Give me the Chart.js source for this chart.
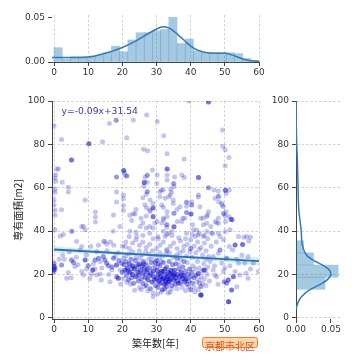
<!DOCTYPE html>
<html>
<head>
<meta charset="utf-8">
<script src="https://cdn.jsdelivr.net/npm/chart.js@4.4.0/dist/chart.umd.min.js"></script>
<style>
  html, body { margin: 0; padding: 0; background: #fff; }
  #wrap { position: relative; width: 360px; height: 360px; overflow: hidden; background: #fff; }
  canvas { position: absolute; }
  #topHist  { left: 0;     top: 0;    width: 270px; height: 80px;  }
  #scatter  { left: 0;     top: 90px; width: 270px; height: 270px; }
  #sideHist { left: 270px; top: 90px; width: 90px;  height: 270px; }
  #ward {
    position: absolute; left: 202px; top: 337px;
    padding: 0 2px; height: 9px; line-height: 9px;
    border: 1.5px solid #f57f1f; border-radius: 2.5px;
    background: #ffd7ae; color: #e4501c;
    font: 10px 'Noto Sans CJK JP'; white-space: nowrap;
  }
</style>
</head>
<body>
<div id="wrap">
  <canvas id="topHist" width="270" height="80"></canvas>
  <canvas id="scatter" width="270" height="270"></canvas>
  <canvas id="sideHist" width="90" height="270"></canvas>
  <div id="ward">京都市北区</div>
</div>
<script>
/* ─── tick labels ─── */
const AGE_TICKS  = [0, 10, 20, 30, 40, 50, 60];
const AREA_TICKS = [0, 20, 40, 60, 80, 100];
const DENS_TICKS = [0, 0.05];

/* ─── top marginal: histogram of building age (density) ─── */
const ageBinCenters = [1.2, 3.6, 6.0, 8.4, 10.8, 13.2, 15.6, 18.0, 20.4, 22.8, 25.2, 27.6, 30.0,
                       32.4, 34.8, 37.2, 39.6, 42.0, 44.4, 46.8, 49.2, 51.6, 54.0, 56.4, 58.8];
const ageBinDensity = [0.0163, 0.0034, 0.006, 0.006, 0.006, 0.0076, 0.0106, 0.018, 0.0117, 0.025, 0.0333, 0.0333, 0.0355,
                       0.037, 0.0508, 0.021, 0.026, 0.0128, 0.0106, 0.0106, 0.0106, 0.0106, 0.0095, 0.004, 0.0015];
const ageKdeX = [-0.6, 5, 10, 15, 20, 24, 28, 31, 32, 34, 36, 38, 40, 42, 44, 47, 50, 53, 56, 60];
const ageKdeY = [0.005, 0.005, 0.0056, 0.0099, 0.0165, 0.024, 0.0332, 0.0392, 0.040, 0.038, 0.032, 0.025,
                 0.018, 0.0135, 0.0112, 0.0099, 0.0099, 0.0068, 0.0025, 0.0005];

/* ─── right marginal: histogram of floor area (density) ─── */
const areaBinCenters = [16, 21.6, 27.2, 32.8];
const areaBinDensity = [0.0415, 0.0603, 0.025, 0.0108];
const areaKdeY = [4, 8, 10, 13, 16, 18, 20, 22, 24, 26, 28, 30, 34, 40, 50, 62, 74, 80, 90, 100];
const areaKdeX = [0, 0.004, 0.0085, 0.020, 0.038, 0.046, 0.050, 0.048, 0.040, 0.028, 0.018, 0.013,
                  0.0088, 0.0075, 0.0040, 0.0028, 0.0018, 0.001, 0.0004, 0.0002];

/* ─── regression fit + 95% band ─── */
const REG_TEXT = 'y=-0.09x+31.54';
const regX = [0, 60];
const regY = [31.54, 26.14];
const bandX  = [0, 10, 20, 30, 40, 50, 60];
const bandHi = [33.0, 31.6, 30.4, 29.4, 28.6, 28.2, 28.0];
const bandLo = [30.0, 29.6, 29.0, 28.2, 27.2, 25.8, 24.2];

/* ─── scatter: [age, area, overlapping count] ─── */
const ptsLeft = [
  [0,25.2,2],[0,23.7,3],[0,22.1,3],[0.3,22.9,2],[0,21.2],[2.2,24.4,2],[4.2,20.9],[3.7,18.3],[5.1,26.7,2],[5.7,25.5,2],
  [6.1,23.7],[8.1,21.4],[8.6,19.8],[9.1,26.7,3],[9.4,29],[7.6,31.3],[8.1,32.9],[6.6,35.2],[10.7,32.9],[11.3,22.1,3],
  [11,20.1],[12.5,19.8],[13.5,20.3],[12,26.7,2],[13,27.5,2],[13.5,26],[14.4,28.3,2],[14.9,26.7,2],[12.5,30.6],[15.4,25.2,2],
  [15.9,24,2],[16.4,16.7],[16.9,22.1],[17.4,27.5,2],[17.9,28.3],[18.3,24.4,3],[18.3,19,2],[18.8,18.3,3],[19.3,22.1],[19.8,25.2,2],
  [20.3,27.5],[20.8,32.9],[2.5,29],[3,27],[6.5,28],[10,24,2],[11.5,25],[14,23],[16,20],[17,23.5,2],
  [19,26.5,2],[9.5,22.5],[7,24.5],[4.5,30.5],[1.5,27],[13,33.5],[15.5,31],[17.5,33.5],[18.8,30],[16.5,35],
  [14.5,35.2],[5,18.5],[10.5,18],[13.8,17.5],[19.5,15.5],[12,22.5]
];
const ptsCluster = [
  [20.5,24.5,2],[20.8,22,3],[21,26,2],[21.2,19.5,2],[21.5,23,3],[21.8,17.5,2],[22,25,3],[22.2,21,3],[22.5,27,2],[22.7,18.5,2],
  [23,24,3],[23,20,3],[23.3,16,2],[23.5,22.5,3],[23.8,26.5,2],[24,19,3],[24.2,23.5,2],[24.5,21,3],[24.7,17,2],[25,25,2],
  [25,14],[20.2,18],[21,28.5],[22,29.5],[23,30.5],[24,28],[25,31],[20,21,2],[21.7,21.5,2],[22.8,23,2],
  [24.5,24.5,2],[23.6,12.8],[24.8,19.8,2],[21.3,16.5],[22.4,15.5],
  [25.3,22,3],[25.5,18,2],[25.7,24,3],[26,20.5,3],[26,16,2],[26.2,26,2],[26.5,22.5,3],[26.7,18.8,3],[27,15,2],[27,24.5,2],
  [27.2,21,3],[27.5,17.5,3],[27.7,27],[28,19.5,3],[28,23,2],[28.2,13.5,2],[28.5,25.5,2],[28.7,16.5,3],[29,21.5,3],[29,11.5],
  [29.2,19,3],[29.5,23.5,2],[29.7,15,2],[30,18,3],[30,26.5,2],[25.8,29],[26.8,30.5],[27.8,29.5],[28.8,31],[29.8,29],
  [25.5,13],[26.4,14.5],[27.4,12.5],[28.4,20.5,2],[29.4,17.5,2],[29,9.8],[25.2,27.5],[26.3,25,2],[27.3,22.3,2],[28.6,27.6],
  [29.6,25.5,2],
  [30.2,22,3],[30.4,14,2],[30.5,20,3],[30.7,17,3],[31,24,2],[31,16,3],[31.2,19,4],[31.5,21.5,3],[31.7,13,2],[32,18,4],
  [32,25.5,2],[32.2,15.5,3],[32.5,22.5,3],[32.5,20,3],[32.7,17,3],[33,14.5,2],[33,23.5,2],[33.2,19,4],[33.5,21,3],[33.5,16.5,3],
  [33.7,26,2],[34,18,4],[34,12],[34.2,22,3],[34.5,20,3],[34.5,15,2],[34.7,24.5,2],[35,17.5,3],[35,19.5,3],[30.8,27.5],
  [31.8,28.5],[32.8,29.5],[33.8,30],[34.8,28],[30.3,11],[31.4,12],[32.4,13.5,2],[33.4,11.5],[34.4,13.5],[31.2,20.8,2],
  [32,21.5,2],[33,18,2],[34,20.5,2],[31.6,17.8,2],[32.8,16,2],[33.8,17,2],[30.5,25,2],[31.5,26],
  [35.2,22,3],[35.5,15.5,2],[35.5,18.5,3],[35.7,25,2],[36,20,3],[36,13.5],[36.2,17,3],[36.5,22.5,2],[36.7,19,3],[37,16,2],
  [37,27],[37.2,21,3],[37.5,18,3],[37.5,14],[37.7,23.5,2],[38,19.5,3],[38.2,16.5,2],[38.5,21.5,2],[38.5,12.5],[38.7,18,3],
  [39,25.5],[39,15.5,2],[39.2,20,2],[39.5,17,2],[39.7,22.5,2],[40,19,2],[40,13,2],[35.8,29],[36.8,30],[37.8,31],
  [38.8,28.5],[39.8,30.5],[36.4,16,2],[37.4,19.7,2],[38.4,17.4,2],[39.4,14.2],[35.3,20.5,2],[36.6,24.5],
  [40.3,21,2],[40.5,16,2],[40.7,24],[41,18.5,2],[41,14],[41.3,22.5],[41.5,19.5,2],[41.8,16.5],[42,26],[42.2,20.5,3],
  [42.5,17.5],[42.5,23],[42.8,14.5],[43,19],[43.3,21.5],[43.5,16],[43.8,25],[44,18],[44.3,22],[44.5,15],
  [44.8,20],[45,23.5],[40.5,28],[41.5,30],[42.5,31.5],[43.5,29],[44.5,27],[41.2,12],[42.2,13],[43.2,14.5],
  [43.9,22.1,3],[43,10.6,5],[42.6,16]
];
const ptsRight = [
  [45.2,28.3],[45.7,26],[46.6,22.1],[47.1,19.8],[47.6,19],[48.1,29.8],[48.6,31.3,2],[49.1,25.2],[49.6,21.4],[49.8,16.7,2],
  [50.5,16,2],[51,17.5,3],[51.1,7.5,4],[52,12.9,3],[52.5,19,3],[53,33.6,3],[53.5,14.4],[54,25.2],[54.4,19.8],[55.2,33.9,3],
  [56.2,20.6],[56.8,18.3],[59.8,21.4],[58.3,25.2],[56.8,28.3],[55.8,25.2],[51.3,32.9],[52.3,31.3],[48.6,37.5],[49.6,36],
  [51.5,40.6],[53,21.4],[55,29],[46.6,28.3],[45.5,17],[47,24],[48,15.5],[50,23],[50.5,27.5,2],[51.5,24],
  [53.5,27],[57.5,22.5],[46,33],[47.5,35],[44.5,31],[45,36.5],[57,35.5]
];
const ptsMidBand = [
  [30,32],[31,33.5],[32,35],[33,31.5],[34,33],[35,34.5],[36,32],[37,35.5],[38,33],[39,34],
  [40,36],[41,33],[42,35],[43,32.5],[44,34.5],[30.5,36.5],[32.5,37.5],[34.5,38],[36.5,37],[38.5,36.5],
  [40.5,38.5],[42.5,39],[44,38],[20,33],[21,35],[22,32],[23,34.5],[24,36],[25,33.5],[26,35],
  [27,32.5],[28,34],[29,36.5],[26,38],[28,39],[24,39.5],[22,37.5],[35.1,42,3],[33,31],[36,27.5,2],
  [38,26,2],[31,30],[40,32,2]
];
const ptsHigh = [
  [0,88.5],[2.2,82.3],[1.3,68.7],[0.5,66],[0.3,64.5],[0.5,63],[2.4,62.5],[0.3,59.4],[0.3,57.9],[4.2,60.2],
  [4.2,58.1],[5.1,72.8,3],[10.2,80.3,3],[14.2,81.2],[16.2,89.6],[18.2,91.1,2],[21.3,83.1],[23.2,91.2],[27.1,93.5],[30.2,90.5],
  [32.1,84],[33.1,75.7],[26.2,77.7],[27.4,77.1],[38.1,73.3],[39.4,100],[45.2,99.5,3],[49.3,86.6],[49.4,79.1],[50.1,77.5],
  [51.2,74],[50.1,70.2],[20.4,68,3],[20.5,67.2],[21.3,65.4,2],[18.3,65,2],[20.8,65.8],[26.4,62.4,3],[27.3,65.8,2],[26.6,64.8],
  [28.8,68.2],[33.1,68.6,3],[33.1,65.9],[35.3,65],[37.4,65.9],[38.1,64.7],[42.3,64.7,3],[30.2,65.9],[33.1,63.6],[35.1,62],
  [35.1,60.5],[31.4,59],[31,58.2],[34,56.7],[32.5,55.2],[28.1,54.4],[29,52.8],[45.2,60,2],[48.1,58.5],[50.1,58.9,2],
  [50.4,57.4],[47.1,55.2],[49.1,52.9],[49.6,51.3],[50.4,49],[38.8,53.3,2],[38.8,51.5],[38.8,48.6,2],[42.2,55.7],[45.2,49],
  [44.7,46.7],[43.7,46],[48.1,46],[47.6,43.8],[49.6,48.2],[50.1,47],[52.1,45.3,2],[38.3,46],[37.4,44.5],[33.1,49],
  [33.1,46.7],[32.1,45.3],[31.6,43.8],[30.2,44.5],[32,40],[33,38.4],[34.5,40],[28.1,49.8],[29,46.7,2],[29,41.5],
  [41.8,40.5],[42.2,38.2],[44.7,39.8],[43.7,37.5],[46.1,39],[48.1,39],[50.1,39.8],[55.6,37.2],[57.5,37.2],
  [0.8,68.7],[9.1,54.4],[27.3,62.5],[27.3,58.2,2],[26.3,60.7],[27,56.9],[26,55.4],[18.3,58],[18.3,53.4],[20.3,54.9],
  [20.3,51.8],[20.3,49.6],[22.2,47.3],[23.2,48],[26.6,52.2],[27.1,50.7],[28.1,49.1],[29,50.7,3],[26,43.8],[27,41.5],
  [28,42.2],[29,46.5],[29.5,43.8],[0.3,49.6],[0.3,47.3],[2.2,49.9],[8.6,42.2],[9.1,40.6],[12.1,48.8],[12.1,46.5],
  [12.1,44.2],[0.3,40.7],[5.2,39.9,2],[8.1,42.2],[17.3,39.9],[22.2,39.9],[1.8,37.6],[2.7,38.4],[0,54.4],[0,52],
  [14.9,35.2],[15.4,34.1],[17.4,47.5],[19.3,42.1],[20.3,56.7],[22.7,44.9],[24.2,37.5],[25.2,42.1],[30.4,37.5],[31,55.9],
  [31.5,52],[32,51],[32,45.9],[33,42.9,2],[33,41.8],[33.5,39],[33.6,55.9],[34.1,59.3],[34.4,57.9],[34.9,54.4],
  [34.9,52.8],[35.1,48.2,2],[36.1,44.4],[36.9,51.3],[37.7,45.9],[38.8,39],[40.3,53.6],[40.3,52,2],[40.1,47.9,3],[40.6,42.9],
  [40.8,40.6],[41.3,37.5],[42.3,56.7],[42.7,51.3],[42.9,45.9],[43.7,42.9],[44.7,43.6],[44.9,47.5],[45.9,42.1],[46.4,39],
  [47.2,44.4],[48.2,43.6],[48.2,53.6],[49.2,52],[49.7,47.9],[50.2,44.4],[51.2,46.7],[51.8,45.5,2],[54,37.5],[56.4,37.5],
  [48.2,55.9],[50.3,58.8],[51.3,59],[46.8,59],[48.1,56.2],[30.1,62],[32,59],[34.9,61.8],[36,50],[24,50],
  [23.7,47.9],[25.5,46],[27,47]
];

/* ─── shared look ─── */
Chart.defaults.font.family = "'DejaVu Sans'";
Chart.defaults.font.size = 9;
Chart.defaults.color = '#333';

const AXIS  = '#444';
const GRID  = '#c6c6c6';
const BAR   = 'rgba(31,119,180,0.4)';
const KDE   = '#2f7bbf';
const DOT   = 'rgba(10,10,200,0.24)';
const CJK   = { family: "'Noto Sans CJK JP'", size: 10 };

const pairs  = (xs, ys) => xs.map((x, i) => ({ x, y: ys[i] }));
const expand = (...lists) => {
  const out = [];
  lists.forEach(list => list.forEach(([x, y, n = 1]) => {
    for (let k = 0; k < n; k++) out.push({ x, y });
  }));
  return out;
};
const fixTicks = vals => scale => { scale.ticks = vals.map(value => ({ value })); };

function axis(extra) {
  return Object.assign({
    type: 'linear',
    offset: false,
    ticks: { padding: 3, color: '#333' },
    grid: { color: GRID, lineWidth: 0.8, tickLength: 4, tickColor: AXIS, tickWidth: 1, offset: false },
    border: { display: true, color: AXIS, width: 1, dash: [2.5, 2] },
  }, extra);
}

const baseOpts = {
  responsive: false,
  animation: false,
  events: [],
  plugins: { legend: { display: false }, tooltip: { enabled: false } },
};

/* ─── top marginal ─── */
new Chart(document.getElementById('topHist'), {
  type: 'bar',
  data: {
    datasets: [
      { type: 'line', data: pairs(ageKdeX, ageKdeY), borderColor: KDE, borderWidth: 1.5,
        pointRadius: 0, cubicInterpolationMode: 'monotone', order: 0 },
      { type: 'bar', data: pairs(ageBinCenters, ageBinDensity), backgroundColor: BAR, borderWidth: 0,
        barPercentage: 1, categoryPercentage: 1, order: 1 },
    ]
  },
  options: Object.assign({}, baseOpts, {
    layout: { padding: { top: 15, right: 11, left: 0, bottom: 0 } },
    scales: {
      x: axis({ min: -0.6, max: 60, afterBuildTicks: fixTicks(AGE_TICKS),
                ticks: { padding: 1, color: '#333' },
                afterFit: s => { s.height = 18; } }),
      y: axis({ min: 0, max: 0.0534, afterBuildTicks: fixTicks(DENS_TICKS),
                ticks: { padding: 3, color: '#333', callback: v => v.toFixed(2) },
                grid: { drawOnChartArea: false, tickLength: 4, tickColor: AXIS },
                border: { display: false },
                afterFit: s => { s.width = 52; } }),
    }
  })
});

/* ─── equation label inside the scatter ─── */
const eqLabel = {
  id: 'eqLabel',
  afterDatasetsDraw(chart) {
    const { ctx, scales: { x, y } } = chart;
    ctx.save();
    ctx.font = "9.2px 'DejaVu Sans'";
    ctx.fillStyle = '#3636c8';
    ctx.textBaseline = 'middle';
    ctx.fillText(REG_TEXT, x.getPixelForValue(2.2), y.getPixelForValue(95.1));
    ctx.restore();
  }
};

/* ─── main scatter ─── */
new Chart(document.getElementById('scatter'), {
  type: 'scatter',
  data: {
    datasets: [
      { data: pairs(regX, regY), showLine: true, borderColor: '#1f77b4', borderWidth: 1.8,
        pointRadius: 0, order: 0 },
      { data: pairs(bandX, bandHi), showLine: true, borderWidth: 0, pointRadius: 0,
        fill: '+1', backgroundColor: 'rgba(31,119,180,0.16)', order: 1 },
      { data: pairs(bandX, bandLo), showLine: true, borderWidth: 0, pointRadius: 0, order: 2 },
      { data: expand(ptsLeft, ptsCluster, ptsRight, ptsMidBand, ptsHigh),
        pointRadius: 2.5, pointBackgroundColor: DOT, pointBorderWidth: 0, order: 3 },
    ]
  },
  options: Object.assign({}, baseOpts, {
    layout: { padding: { top: 11, right: 11, left: 0, bottom: 0 } },
    scales: {
      x: axis({ min: -0.6, max: 60, afterBuildTicks: fixTicks(AGE_TICKS),
                ticks: { padding: 1, color: '#333' },
                title: { display: true, text: '築年数[年]', font: CJK, color: '#222',
                         padding: { top: 0, bottom: 11 } },
                afterFit: s => { s.height = 41; } }),
      y: axis({ min: -0.5, max: 100, afterBuildTicks: fixTicks(AREA_TICKS),
                title: { display: true, text: '専有面積[m2]', font: CJK, color: '#222',
                         padding: { top: 12, bottom: 0 } },
                afterFit: s => { s.width = 52; } }),
    }
  }),
  plugins: [eqLabel]
});

/* ─── right marginal ─── */
new Chart(document.getElementById('sideHist'), {
  type: 'bar',
  data: {
    datasets: [
      { type: 'line', data: pairs(areaKdeX, areaKdeY), borderColor: KDE, borderWidth: 1.5,
        pointRadius: 0, cubicInterpolationMode: 'monotone', order: 0 },
      { type: 'bar', data: pairs(areaBinDensity, areaBinCenters), backgroundColor: BAR, borderWidth: 0,
        barPercentage: 1, categoryPercentage: 1, order: 1 },
    ]
  },
  options: Object.assign({}, baseOpts, {
    indexAxis: 'y',
    layout: { padding: { top: 11, right: 20, left: 0, bottom: 0 } },
    scales: {
      x: axis({ min: 0, max: 0.063, afterBuildTicks: fixTicks(DENS_TICKS),
                ticks: { padding: 1, color: '#333', callback: v => v.toFixed(2) },
                grid: { drawOnChartArea: false, tickLength: 4, tickColor: AXIS },
                border: { display: false },
                afterFit: s => { s.height = 41; } }),
      y: axis({ min: -0.5, max: 100, afterBuildTicks: fixTicks(AREA_TICKS),
                afterFit: s => { s.width = 26; } }),
    }
  })
});
</script>
</body>
</html>
